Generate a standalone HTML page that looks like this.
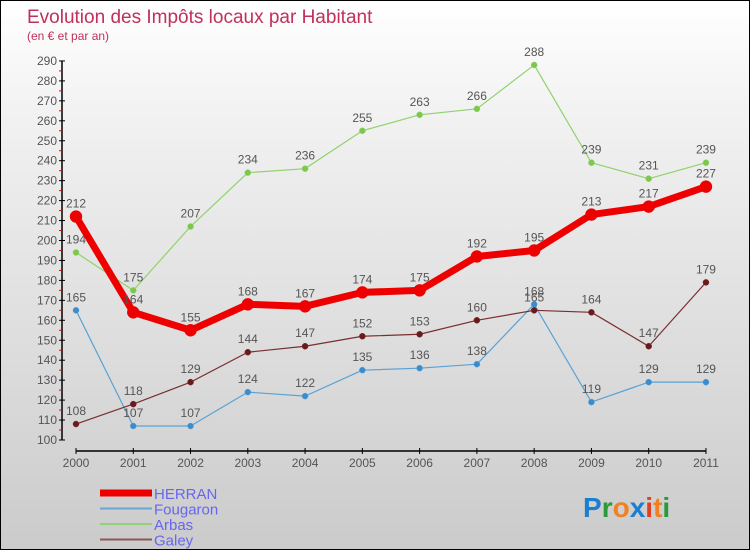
<!DOCTYPE html>
<html><head><meta charset="utf-8"><style>
body{margin:0}
#c{width:748px;height:548px;border:1px solid #000;background:linear-gradient(#fff,#f2f2f2 20%,#cbcbcb);position:relative;font-family:"Liberation Sans",sans-serif;overflow:hidden}
text{font-family:"Liberation Sans",sans-serif}
</style></head><body>
<div id="c">
<svg id="s" width="748" height="548">
<text x="26" y="22" font-size="19" fill="#c0305a">Evolution des Impôts locaux par Habitant</text>
<text x="26" y="39" font-size="12" fill="#c0305a">(en € et par an)</text>
</svg>
</div>
<script>
const years=[2000,2001,2002,2003,2004,2005,2006,2007,2008,2009,2010,2011];
const herran=[212,164,155,168,167,174,175,192,195,213,217,227];
const fougaron=[165,107,107,124,122,135,136,138,168,119,129,129];
const arbas=[194,175,207,234,236,255,263,266,288,239,231,239];
const galey=[108,118,129,144,147,152,153,160,165,164,147,179];
const yTicks=[100,110,120,130,140,150,160,170,180,190,200,210,220,230,240,250,260,270,280,290];
const NS="http://www.w3.org/2000/svg",s=document.getElementById('s');
const X=i=>75+i*57.27, Y=v=>439-(v-100)*1.995;
function el(t,a,p){const e=document.createElementNS(NS,t);for(const k in a)e.setAttribute(k,a[k]);(p||s).appendChild(e);return e;}
let e=el('line',{x1:61,y1:Y(290),x2:61,y2:Y(100),stroke:'#000','stroke-width':1.5});


yTicks.forEach(v=>{
 el('line',{x1:58,y1:Y(v),x2:64,y2:Y(v),stroke:'#000'});
 if(v<290)el('line',{x1:58,y1:Y(v+5),x2:61,y2:Y(v+5),stroke:'#e00'});
 const t=el('text',{x:56,y:Y(v)+4,'font-size':12,fill:'#555','text-anchor':'end'});t.textContent=v;
 
 
});
e=el('line',{x1:X(0),y1:450,x2:X(11),y2:450,stroke:'#000','stroke-width':1.5});


years.forEach((y,i)=>{
 el('line',{x1:X(i),y1:447,x2:X(i),y2:453,stroke:'#000'});
 const t=el('text',{x:X(i),y:466,'font-size':12,fill:'#555','text-anchor':'middle'});t.textContent=y;
 
 
});
function series(d,col,w,r,dot,name){
 const g=el('g',{});
 
 
 el('polyline',{points:d.map((v,i)=>X(i)+','+Y(v)).join(' '),fill:'none',stroke:col,'stroke-width':w,'stroke-linejoin':'round'},g);
 d.forEach((v,i)=>{
  const c=el('circle',{cx:X(i),cy:Y(v),r:r,fill:dot,stroke:col,'stroke-width':0.5},g);
  
  
  const t=el('text',{x:X(i),y:Y(v)-9,'font-size':12,fill:'#555','text-anchor':'middle'},g);t.textContent=v;
  
  
 });
}
series(arbas,'#8fd36a',1.2,3,'#7cc84a','arbas');
series(fougaron,'#5aa2d6',1.2,3,'#3a8ccc','fougaron');
series(galey,'#7a2e2e',1.2,3,'#6a1a1a','galey');
series(herran,'#ee0000',7,6,'#ee0000','herran');
const leg=[['HERRAN','#ee0000',7],['Fougaron','#6aa6d6',2],['Arbas','#92d07a',2],['Galey','#8e5656',2]];
leg.forEach((l,i)=>{
 const yy=492+i*15.5;
 const g=el('g',{});
 
 
 el('line',{x1:99,y1:yy,x2:151,y2:yy,stroke:l[1],'stroke-width':l[2]},g);
 const t=el('text',{x:153,y:yy+6,'font-size':15,fill:'#6666ee'},g);t.textContent=l[0];
});
const logo=el('text',{x:582,y:516,'font-size':28,'font-weight':'bold'});


[['P','#1a7fd0'],['r','#2a9a3a'],['o','#f08020'],['x','#1a7fd0'],['i','#e04020'],['t','#f08020'],['i','#2a9a3a']].forEach(p=>{const ts=el('tspan',{fill:p[1]},logo);ts.textContent=p[0];});
</script>
</body></html>
